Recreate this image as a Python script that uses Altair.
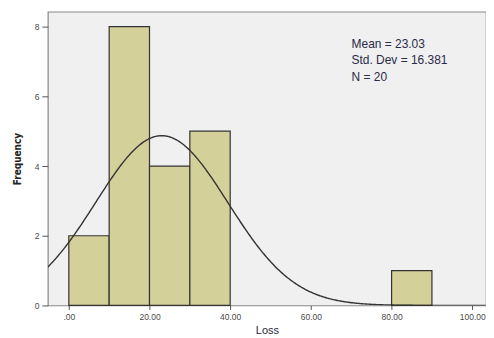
import altair as alt
import pandas as pd

# Histogram bins (lower edges) and their frequencies
bin_start = [0, 10, 20, 30, 80]
counts = [2, 8, 4, 5, 1]
bin_width = 10

# Summary statistics shown in the legend box
mean_val = 23.03
std_val = 16.381
n_val = 20
stats_lines = ["Mean = 23.03", "Std. Dev = 16.381", "N = 20"]

x_ticks = [0, 20, 40, 60, 80, 100]
y_ticks = [0, 2, 4, 6, 8]

bars_df = pd.DataFrame({"start": bin_start, "count": counts})
bars_df["end"] = bars_df["start"] + bin_width

stats_df = pd.DataFrame({"line": stats_lines, "row": list(range(len(stats_lines)))})

xdom = [-5.2, 103.4]
ydom = [0, 8.43]

xscale = alt.Scale(domain=xdom, nice=False, zero=False)
yscale = alt.Scale(domain=ydom, nice=False)

xaxis = alt.Axis(
    values=x_ticks,
    title="Loss",
    labelExpr="datum.value == 0 ? '.00' : format(datum.value, '.2f')",
    labelFontSize=8.5,
    labelColor="#4a4a4a",
    labelFont="Liberation Sans",
    tickColor="#555555",
    tickSize=4,
    domain=False,
    grid=False,
    titleFontSize=11,
    titleFont="Liberation Sans",
    titleFontWeight="normal",
    titleColor="#2a2a3a",
    titlePadding=4,
    labelPadding=3,
)
yaxis = alt.Axis(
    values=y_ticks,
    title="Frequency",
    labelFontSize=8.5,
    labelColor="#4a4a4a",
    labelFont="Liberation Sans",
    tickColor="#555555",
    tickSize=6,
    domain=False,
    grid=False,
    titleFontSize=10,
    titleFont="DejaVu Sans Condensed, Liberation Sans, sans-serif",
    titleFontWeight="bold",
    titleColor="#222222",
    titlePadding=12,
    labelPadding=3,
)

bars = alt.Chart(bars_df).mark_rect(
    fill="#d4d09a", stroke="#333333", strokeWidth=1.2
).encode(
    x=alt.X("start:Q", scale=xscale, axis=xaxis),
    x2="end:Q",
    y=alt.Y("count:Q", scale=yscale, axis=yaxis),
    y2=alt.datum(0),
)

curve = alt.Chart(alt.sequence(-5.2, 103.4, 0.25, as_="x")).transform_calculate(
    y=f"{n_val * bin_width} / ({std_val} * sqrt(2 * PI)) * exp(-0.5 * pow((datum.x - {mean_val}) / {std_val}, 2))"
).mark_line(color="#333333", strokeWidth=1.4, clip=True).encode(
    x=alt.X("x:Q", scale=xscale),
    y=alt.Y("y:Q", scale=yscale, axis=None),
)

stats = alt.Chart(stats_df).mark_text(
    align="left", baseline="middle", fontSize=12, font="Liberation Sans", color="#2a2a4a"
).encode(
    x=alt.value(305),
    y=alt.Y("row:Q", scale=alt.Scale(domain=[0, 1], range=[32, 49]), axis=None),
    text="line:N",
)

chart = alt.layer(bars, curve, stats).resolve_scale(y="independent").properties(
    width=440,
    height=295,
    padding={"left": 40, "top": 3, "right": 0, "bottom": 32},
    autosize="none",
    background="white",
).configure_view(
    fill="#f0f0f0", stroke="#888888", strokeWidth=1.2
)

chart.save("out.html", embed_options={"renderer": "svg", "actions": False})
